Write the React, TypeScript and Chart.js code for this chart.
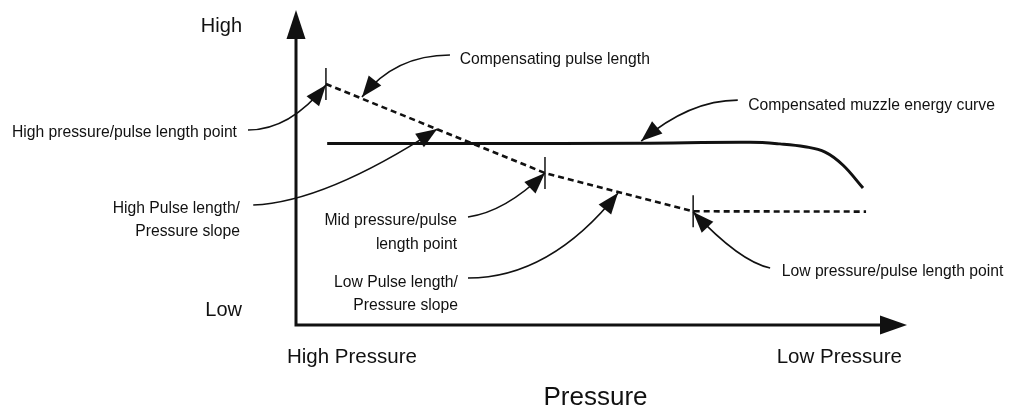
import React, { useEffect, useRef } from "react";
import { Chart, registerables } from "chart.js";

Chart.register(...registerables);

// ---- data (x: 0 = high pressure, 100 = low pressure; y: 0 = low, 100 = high) ----
const pulseX = [4.9, 40.75, 65.0, 93.3];
const pulseY = [76.5, 48.25, 36.1, 36.0];
const pulseTickRadius = [16, 16, 16, 0];

const energyX = [5.1, 30, 56.3, 74.3, 79.2, 83.3, 86.6, 89.5, 92.8];
const energyY = [57.6, 57.6, 57.7, 58.0, 57.5, 56.6, 54.9, 50.8, 43.5];

const yTickLabels = ["Low", "High"];
const yTickValues = [3, 93];
const xTickLabels = ["High Pressure", "Low Pressure"];
const xAxisTitle = "Pressure";

// annotations
const annotationText = [
  ["Compensating pulse length"],
  ["Compensated muzzle energy curve"],
  ["High pressure/pulse length point"],
  ["High Pulse length/", "Pressure slope"],
  ["Mid pressure/pulse", "length point"],
  ["Low Pulse length/", "Pressure slope"],
  ["Low pressure/pulse length point"],
];
const annotationAlign = ["left", "left", "right", "right", "right", "right", "left"];
const annotationTextX = [26.8, 74.0, -9.66, -9.17, 26.35, 26.5, 79.5];
const annotationTextY = [83.0, 68.4, 59.7, 35.6, 31.7, 12.1, 15.7];
const arrowFromX = [25.2, 72.3, -7.86, -7.0, 28.15, 28.15, 77.6];
const arrowFromY = [85.7, 71.4, 61.9, 38.1, 34.3, 14.9, 18.1];
const arrowCtrlX = [16.2, 64.4, -1.0, 4.75, 34.2, 41.6, 72.7];
const arrowCtrlY = [85.7, 71.4, 61.9, 39.0, 35.9, 14.9, 20.0];
const arrowTipX = [10.8, 56.5, 4.9, 23.1, 40.75, 52.7, 65.0];
const arrowTipY = [72.4, 58.4, 76.2, 62.2, 48.25, 41.9, 35.9];

const FONT = '"Liberation Sans", Arial, Helvetica, sans-serif';
const INK = "#111";

function fillArrowHead(ctx: CanvasRenderingContext2D, tx: number, ty: number, dx: number, dy: number, len: number, half: number) {
  const d = Math.hypot(dx, dy) || 1;
  const ux = dx / d, uy = dy / d;
  const bx = tx - ux * len, by = ty - uy * len;
  ctx.beginPath();
  ctx.moveTo(tx, ty);
  ctx.lineTo(bx - uy * half, by + ux * half);
  ctx.lineTo(bx + uy * half, by - ux * half);
  ctx.closePath();
  ctx.fill();
}

const diagramPlugin = {
  id: "diagram",
  afterDatasetsDraw(chart: any) {
    const ctx: CanvasRenderingContext2D = chart.ctx;
    const xs = chart.scales.x;
    const ys = chart.scales.y;
    const ca = chart.chartArea;
    const px = (v: number) => xs.getPixelForValue(v);
    const py = (v: number) => ys.getPixelForValue(v);
    ctx.save();
    ctx.strokeStyle = INK;
    ctx.fillStyle = INK;

    // axes
    ctx.lineWidth = 3;
    ctx.lineCap = "butt";
    ctx.beginPath();
    ctx.moveTo(ca.left, ca.bottom + 1.5);
    ctx.lineTo(ca.left, ca.top + 20);
    ctx.moveTo(ca.left - 1.5, ca.bottom);
    ctx.lineTo(ca.right - 20, ca.bottom);
    ctx.stroke();
    fillArrowHead(ctx, ca.left, ca.top, 0, -1, 29, 9.5);
    fillArrowHead(ctx, ca.right, ca.bottom, 1, 0, 27, 9.5);

    // y tick labels
    ctx.font = `20px ${FONT}`;
    ctx.textAlign = "right";
    ctx.textBaseline = "alphabetic";
    yTickLabels.forEach((t, i) => {
      ctx.fillText(t, ca.left - 54, py(yTickValues[i]));
    });

    // x tick labels
    ctx.font = `20.5px ${FONT}`;
    ctx.textAlign = "left";
    ctx.fillText(xTickLabels[0], ca.left - 9, ca.bottom + 38);
    ctx.textAlign = "right";
    ctx.fillText(xTickLabels[1], ca.right - 5, ca.bottom + 38);

    // x axis title
    ctx.font = `26px ${FONT}`;
    ctx.textAlign = "center";
    ctx.fillText(xAxisTitle, (ca.left + ca.right) / 2 - 6, ca.bottom + 80);

    // annotations
    ctx.font = `15.7px ${FONT}`;
    annotationText.forEach((lines, i) => {
      ctx.textAlign = annotationAlign[i] as CanvasTextAlign;
      lines.forEach((l, j) => {
        ctx.fillText(l, px(annotationTextX[i]), py(annotationTextY[i]) + j * 23.5);
      });
      const fx = px(arrowFromX[i]), fy = py(arrowFromY[i]);
      const cx = px(arrowCtrlX[i]), cy = py(arrowCtrlY[i]);
      const tx = px(arrowTipX[i]), ty = py(arrowTipY[i]);
      ctx.lineWidth = 1.6;
      ctx.beginPath();
      ctx.moveTo(fx, fy);
      ctx.quadraticCurveTo(cx, cy, tx, ty);
      ctx.stroke();
      fillArrowHead(ctx, tx, ty, tx - cx, ty - cy, 21, 8);
    });
    ctx.restore();
  },
};

export default function App() {
  const ref = useRef<HTMLCanvasElement | null>(null);
  useEffect(() => {
    if (!ref.current) return;
    const chart = new Chart(ref.current, {
      type: "line",
      data: {
        datasets: [
          {
            label: "Compensating pulse length",
            data: pulseX.map((x, i) => ({ x, y: pulseY[i] })),
            borderColor: INK,
            borderWidth: 2.6,
            borderDash: [6, 4],
            pointStyle: "line",
            rotation: 90,
            pointRadius: pulseTickRadius,
            pointBorderWidth: 1.5,
            pointBorderColor: INK,
            pointBackgroundColor: INK,
            tension: 0,
            clip: false,
          } as any,
          {
            label: "Compensated muzzle energy curve",
            data: energyX.map((x, i) => ({ x, y: energyY[i] })),
            borderColor: INK,
            borderWidth: 3,
            pointRadius: 0,
            tension: 0.4,
            clip: false,
          } as any,
        ],
      },
      options: {
        animation: false,
        responsive: false,
        events: [],
        layout: { autoPadding: false, padding: { left: 296, top: 10, right: 104, bottom: 82 } },
        plugins: { legend: { display: false }, tooltip: { enabled: false } },
        scales: {
          x: { type: "linear", min: 0, max: 100, display: false },
          y: { type: "linear", min: 0, max: 100, display: false },
        },
      },
      plugins: [diagramPlugin],
    });
    return () => chart.destroy();
  }, []);
  return (
    <div style={{ position: "fixed", left: 0, top: 0, width: 1011, height: 407, background: "#fff" }}>
      <canvas ref={ref} width={1011} height={407} style={{ display: "block" }} />
    </div>
  );
}
